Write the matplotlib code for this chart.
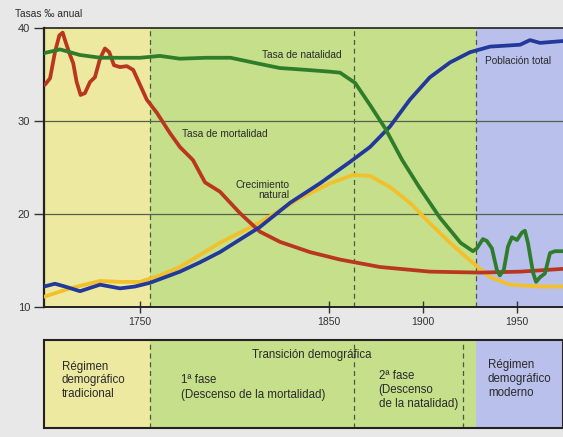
import numpy as np
import matplotlib
matplotlib.use('Agg')
import matplotlib.pyplot as plt

plt.rcParams['font.family'] = ['Liberation Sans', 'DejaVu Sans']

# datos (anio, tasa por mil)
natalidad_yr = [1699, 1707.5, 1718, 1729, 1739, 1750, 1760.5, 1771, 1785, 1798, 1812, 1824, 1838,
                1851, 1856, 1864, 1872, 1880, 1889, 1898, 1909, 1920, 1926.5, 1928.6, 1931.8,
                1933.9, 1936.6, 1939.2, 1940.8, 1942.9, 1945.1, 1947.2, 1949.9, 1952.5, 1954.1,
                1955.7, 1958.4, 1960, 1962.1, 1964.7, 1967.4, 1970, 1974.3]
natalidad = [37.3, 37.7, 37.1, 36.8, 36.8, 36.8, 37.0, 36.7, 36.8, 36.8, 36.2, 35.7, 35.5,
             35.3, 35.2, 34.1, 31.7, 29.2, 25.8, 22.9, 19.6, 16.9, 16.0, 16.3, 17.3,
             17.1, 16.3, 14.0, 13.4, 14.0, 16.5, 17.5, 17.2, 18.0, 18.2,
             16.9, 13.7, 12.7, 13.2, 13.6, 15.8, 16.0, 16.0]

mortalidad_yr = [1699.5, 1702.2, 1704.8, 1707.1, 1708.9, 1710.6, 1712.8, 1714.5, 1716.3, 1718.4,
                 1720.7, 1723.4, 1726, 1728.7, 1731.3, 1733.6, 1736.1, 1739.3, 1742.9, 1746.3,
                 1749.9, 1753.5, 1758.8, 1765.8, 1771.1, 1778, 1784.4, 1792.3, 1802.9, 1813.5,
                 1824.2, 1840.1, 1856, 1877.2, 1903.7, 1930.3, 1951.5, 1974.3]
mortalidad = [33.9, 34.6, 37.4, 39.2, 39.5, 38.4, 37.1, 36.2, 34.2, 32.8,
              33.0, 34.2, 34.7, 36.7, 37.8, 37.4, 36.0, 35.8, 35.9, 35.5,
              33.9, 32.3, 30.9, 28.7, 27.2, 25.8, 23.4, 22.4, 20.1, 18.1,
              17.0, 15.9, 15.1, 14.3, 13.8, 13.7, 13.8, 14.1]

poblacion_yr = [1699, 1704.8, 1710.1, 1718.1, 1728.7, 1739.3, 1747.2, 1755.2, 1765.8, 1771.1,
                1781.7, 1792.3, 1813.5, 1829.5, 1845.4, 1861.3, 1871.9, 1882.5, 1893.1, 1903.7,
                1914.4, 1925, 1935.6, 1951.5, 1956.8, 1962.1, 1974.3]
poblacion = [12.2, 12.5, 12.2, 11.7, 12.4, 12.0, 12.2, 12.6, 13.4, 13.8,
             14.8, 15.9, 18.6, 21.2, 23.3, 25.6, 27.2, 29.4, 32.3, 34.7,
             36.3, 37.4, 38.0, 38.2, 38.7, 38.4, 38.6]

crecimiento_yr = [1699, 1712.8, 1728.7, 1739.3, 1749.9, 1760.5, 1771.1, 1781.7, 1792.3, 1813.5,
                  1834.8, 1850.7, 1862.9, 1871.9, 1882.5, 1893.1, 1903.7, 1914.4, 1925, 1935.6,
                  1946.2, 1962.1, 1974.3]
crecimiento = [11.1, 12.0, 12.8, 12.7, 12.7, 13.4, 14.3, 15.6, 16.9, 19.1,
               21.7, 23.3, 24.2, 24.1, 22.9, 21.2, 19.0, 16.9, 15.0, 13.2,
               12.4, 12.2, 12.2]

# fases
fases = [1699, 1755, 1928, 1974.3]
fase_colores = ['#ede9a0', '#c6df8a', '#b9c0eb']
xticks = [1750, 1850, 1900, 1950]
yticks = [10, 20, 30, 40]

fig = plt.figure(figsize=(5.63, 4.37), dpi=100, facecolor='#e8e8e8')
ax = fig.add_axes([0.0782, 0.2975, 0.9218, 0.6384])

for i in range(3):
    ax.axvspan(fases[i], fases[i + 1], color=fase_colores[i], lw=0, zorder=0)
for x in [1755, 1863.5, 1928]:
    ax.axvline(x, color='#4a5a40', lw=0.9, ls=(0, (4, 3)), zorder=1)
for y in [20, 30]:
    ax.axhline(y, color='#56604e', lw=0.9, zorder=1)

lkw = dict(lw=2.7, solid_joinstyle='round', solid_capstyle='round', zorder=3)
ax.plot(crecimiento_yr, crecimiento, color='#f2c02a', **lkw)
ax.plot(mortalidad_yr, mortalidad, color='#b9361f', **lkw)
ax.plot(poblacion_yr, poblacion, color='#22389a', **lkw)
ax.plot(natalidad_yr, natalidad, color='#2f7d2b', **lkw)

ax.set_xlim(1699, 1974.3)
ax.set_ylim(10, 40)
ax.set_xticks(xticks)
ax.set_yticks(yticks)
ax.tick_params(axis='x', direction='inout', length=8, width=1, colors='#333333', labelsize=7.5, pad=3)
ax.tick_params(axis='y', direction='out', length=7, width=1, colors='#333333', labelsize=8, pad=3)
ax.spines['right'].set_visible(False)
ax.spines['left'].set_linewidth(1.6)
ax.spines['bottom'].set_linewidth(1.4)
ax.spines['top'].set_linewidth(1.2)
for s in ['left', 'bottom', 'top']:
    ax.spines[s].set_color('#222222')

tc = '#2a2a2a'
fig.text(15 / 563, 1 - 14 / 437, 'Tasas ‰ anual', fontsize=7.3, color=tc, va='center')
ax.text(1814.6, 37.1, 'Tasa de natalidad', fontsize=7.3, color=tc, va='center')
ax.text(1772, 28.6, 'Tasa de mortalidad', fontsize=7.3, color=tc, va='center')
ax.text(1829, 22.6, 'Crecimiento\nnatural', fontsize=7.3, color=tc, va='center', ha='right',
        multialignment='right', linespacing=1.0)
ax.text(1933, 36.5, 'Población total', fontsize=7.3, color=tc, va='center')

# caja inferior
bx = fig.add_axes([0.0782, 1 - 428 / 437, 0.9218, 88 / 437])
bx.set_xlim(1699, 1974.3)
bx.set_ylim(0, 1)
for i in range(3):
    bx.axvspan(fases[i], fases[i + 1], color=fase_colores[i], lw=0, zorder=0)
for x in [1755, 1863.5, 1921]:
    bx.axvline(x, color='#4a5a40', lw=0.9, ls=(0, (4, 3)), zorder=1)
bx.set_xticks([])
bx.set_yticks([])
for s in bx.spines.values():
    s.set_linewidth(1.5)
    s.set_color('#222222')

fs = 8.3
bx.text(1708.5, 0.54, 'Régimen\ndemográfico\ntradicional', fontsize=fs, color=tc, va='center', linespacing=1.2)
bx.text(1841, 0.83, 'Transición demográfica', fontsize=fs, color=tc, va='center', ha='center')
bx.text(1771.5, 0.46, '1ª fase\n(Descenso de la mortalidad)', fontsize=fs, color=tc, va='center', linespacing=1.35)
bx.text(1876.5, 0.43, '2ª fase\n(Descenso\nde la natalidad)', fontsize=fs, color=tc, va='center', linespacing=1.2)
bx.text(1934.5, 0.56, 'Régimen\ndemográfico\nmoderno', fontsize=fs, color=tc, va='center', linespacing=1.2)

fig.savefig('out.png', dpi=100, facecolor=fig.get_facecolor())
